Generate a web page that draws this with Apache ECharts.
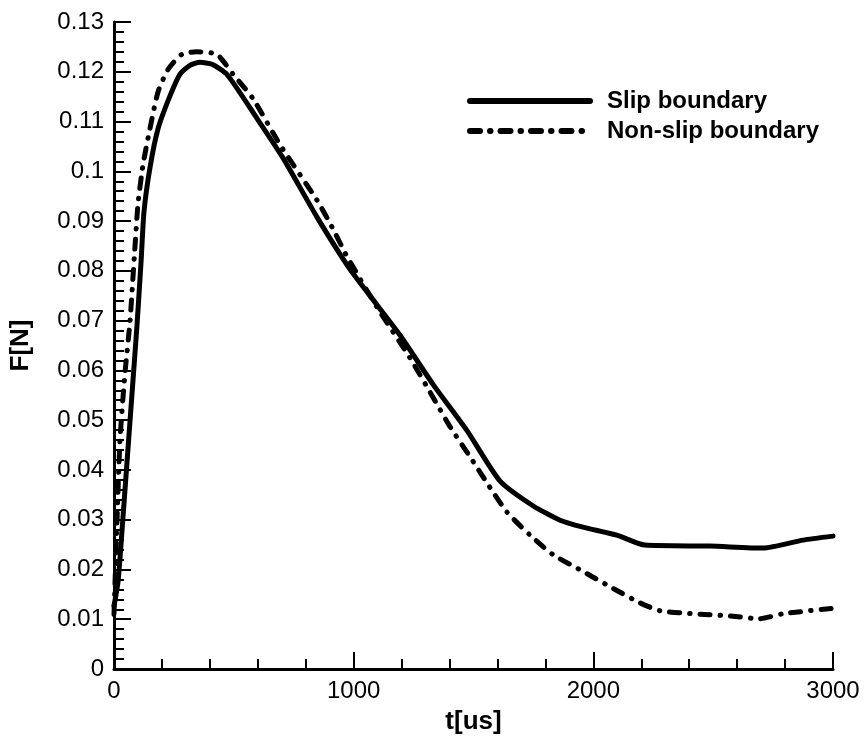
<!DOCTYPE html>
<html>
<head>
<meta charset="utf-8">
<script src="https://cdn.jsdelivr.net/npm/echarts@6/dist/echarts.min.js"></script>
<style>
html,body{margin:0;padding:0;background:#fff;}
#chart{width:866px;height:740px;}
</style>
</head>
<body>
<div id="chart"></div>
<script>
// Slip boundary (solid)
const slipT = [0, 17, 33, 54, 75, 96, 113, 125, 150, 184, 234, 275, 317, 359, 409, 471, 597, 705, 847, 985, 1100, 1193, 1331, 1473, 1610, 1748, 1861, 1957, 2098, 2215, 2486, 2708, 2875, 3000];
const slipF = [0.0127, 0.0176, 0.0275, 0.0414, 0.0552, 0.0691, 0.0819, 0.0918, 0.1007, 0.1086, 0.1152, 0.1195, 0.1213, 0.1219, 0.1215, 0.1195, 0.1106, 0.1027, 0.0908, 0.0803, 0.0730, 0.0671, 0.0572, 0.0479, 0.0378, 0.0328, 0.0299, 0.0285, 0.0269, 0.0249, 0.0247, 0.0243, 0.0259, 0.0267];
// Non-slip boundary (dash-dot)
const nonSlipT = [0, 10, 25, 45, 67, 85, 100, 121, 150, 184, 226, 283, 346, 429, 497, 580, 693, 847, 914, 972, 1100, 1235, 1331, 1402, 1485, 1556, 1640, 1736, 1831, 1957, 2082, 2194, 2278, 2416, 2557, 2695, 2791, 3000];
const nonSlipF = [0.0110, 0.0260, 0.0460, 0.0590, 0.0700, 0.0830, 0.0934, 0.1013, 0.1086, 0.1160, 0.1205, 0.1235, 0.1240, 0.1235, 0.1195, 0.1146, 0.1053, 0.0942, 0.0884, 0.0829, 0.0725, 0.0625, 0.0546, 0.0487, 0.0427, 0.0374, 0.0315, 0.0269, 0.0230, 0.0196, 0.0162, 0.0133, 0.0117, 0.0111, 0.0107, 0.0101, 0.0111, 0.0122];
const seriesNames = ['Slip boundary', 'Non-slip boundary'];
const xTitle = 't[us]';
const yTitle = 'F[N]';

const zip = (a, b) => a.map((v, i) => [v, b[i]]);
const FONT = '"Liberation Sans", Arial, sans-serif';
const DASHDOT = [10, 10, 0.5, 10];

const chart = echarts.init(document.getElementById('chart'), null, {renderer: 'canvas'});

const axisCommon = {
  axisLine: {show: true, onZero: false, lineStyle: {color: '#000', width: 3}},
  axisTick: {show: true, inside: true, length: 17, lineStyle: {color: '#000', width: 2}},
  minorTick: {show: true, splitNumber: 5, length: 10, lineStyle: {color: '#000', width: 2}},
  splitLine: {show: false},
  axisLabel: {color: '#000', fontSize: 24, fontFamily: FONT}
};

chart.setOption({
  animation: false,
  backgroundColor: '#fff',
  grid: {left: 114, right: 33, top: 22, bottom: 61, containLabel: false},
  legend: {
    orient: 'vertical',
    left: 462,
    top: 84,
    itemWidth: 120,
    itemHeight: 14,
    itemGap: 6,
    data: [
      {name: seriesNames[0], itemStyle: {opacity: 0}, lineStyle: {color: '#000', width: 6, type: 'solid', cap: 'round'}},
      {name: seriesNames[1], itemStyle: {opacity: 0}, lineStyle: {color: '#000', width: 6, type: DASHDOT, cap: 'round'}}
    ],
    textStyle: {color: '#000', fontSize: 24, fontWeight: 'bold', fontFamily: FONT, padding: [0, 0, 0, 12]}
  },
  xAxis: Object.assign({}, axisCommon, {
    type: 'value', min: 0, max: 3000, interval: 1000,
    name: xTitle, nameLocation: 'middle', nameGap: 40,
    nameTextStyle: {color: '#000', fontSize: 26, fontWeight: 'bold', fontFamily: FONT},
    axisLabel: Object.assign({}, axisCommon.axisLabel, {margin: 10, formatter: v => String(v)})
  }),
  yAxis: Object.assign({}, axisCommon, {
    type: 'value', min: 0, max: 0.13, interval: 0.01,
    name: yTitle, nameLocation: 'middle', nameGap: 80, nameRotate: 90,
    nameTextStyle: {color: '#000', fontSize: 26, fontWeight: 'bold', fontFamily: FONT},
    axisLabel: Object.assign({}, axisCommon.axisLabel, {margin: 10, formatter: v => String(+(+v).toFixed(2))})
  }),
  series: [
    {
      name: seriesNames[0], type: 'line', data: zip(slipT, slipF),
      symbol: 'none', smooth: 0.2,
      lineStyle: {color: '#000', width: 5, type: 'solid', cap: 'round', join: 'round'},
      itemStyle: {color: '#000'}
    },
    {
      name: seriesNames[1], type: 'line', data: zip(nonSlipT, nonSlipF),
      symbol: 'none', smooth: 0.2,
      lineStyle: {color: '#000', width: 5, type: DASHDOT, cap: 'round', join: 'round'},
      itemStyle: {color: '#000'}
    }
  ]
});
</script>
</body>
</html>
